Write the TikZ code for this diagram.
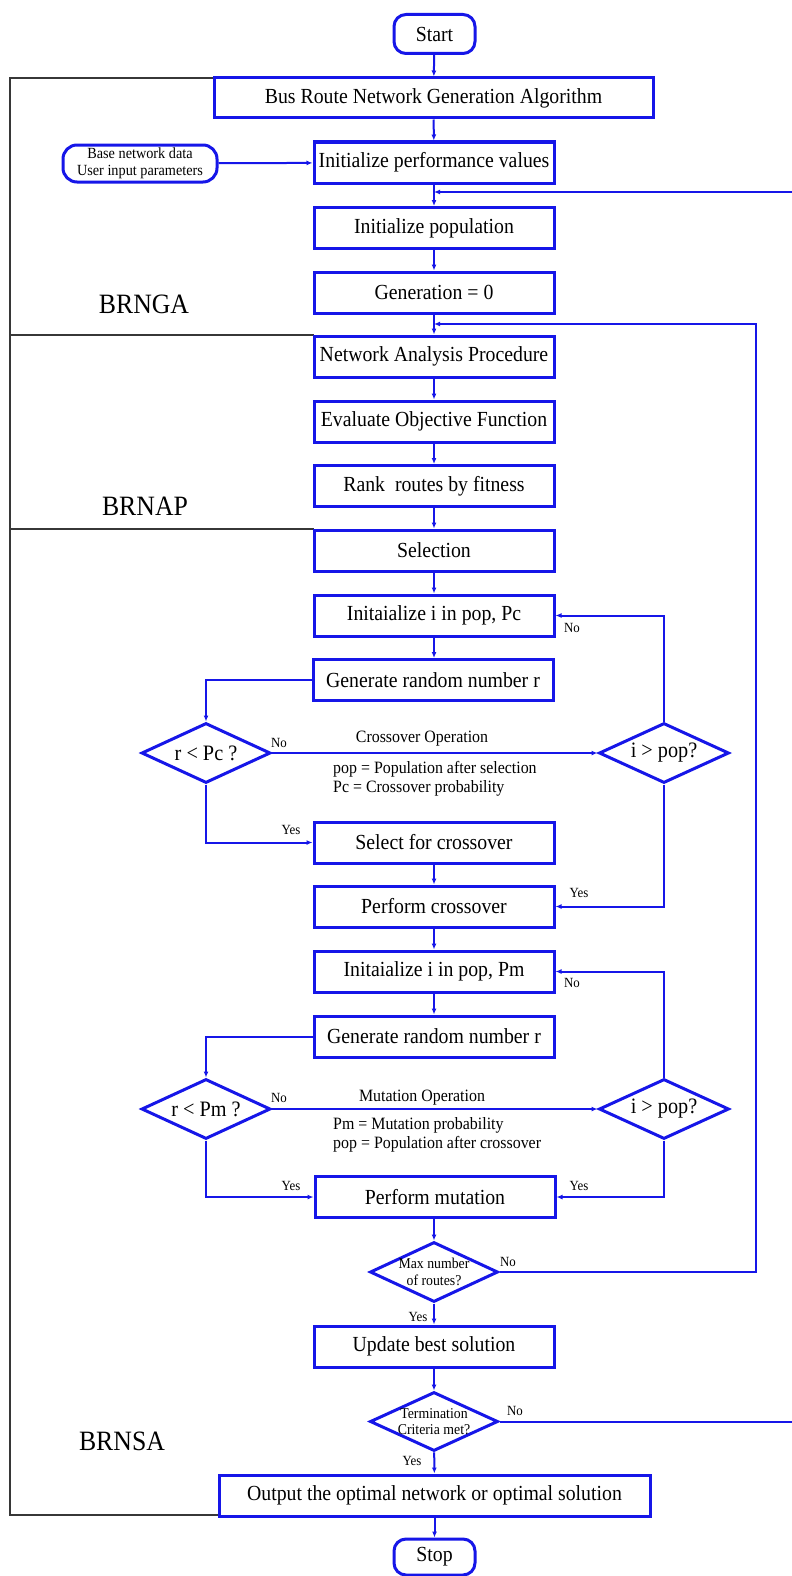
\documentclass[tikz,border=0pt]{standalone}
\usepackage{fontspec}
\setmainfont{Liberation Serif}[FakeStretch=0.92]
\usetikzlibrary{arrows.meta,shapes.geometric,calc}
\definecolor{flowblue}{RGB}{22,22,232}
\definecolor{framegray}{RGB}{55,55,55}

\begin{document}
\begin{tikzpicture}[x=1pt,y=-1pt,
  proc/.style={draw=flowblue,line width=3pt,fill=white,inner sep=0pt,
    minimum width=240pt,minimum height=41pt,font=\fontsize{21.5}{24}\selectfont},
  term/.style={proc,rounded corners=12pt,minimum width=81pt,minimum height=39pt},
  dec/.style={diamond,draw=flowblue,line width=3pt,fill=white,inner sep=0pt,
    aspect=2.15,minimum width=129pt,minimum height=60pt,
    font=\fontsize{22}{24}\selectfont},
  dtext/.style={font=\fontsize{15}{16.5}\selectfont,align=center,inner sep=0pt},
  flow/.style={draw=flowblue,line width=2pt,-{Latex[length=6pt,width=5pt]}},
  lbl/.style={font=\fontsize{14}{15}\selectfont,inner sep=0pt},
  note/.style={font=\fontsize{17.3}{19}\selectfont,inner sep=0pt},
  part/.style={font=\fontsize{28}{30}\selectfont,inner sep=0pt,anchor=base},
  frame/.style={draw=framegray,line width=1.3pt}
]
\useasboundingbox (0,0) rectangle (792,1576);
\fill[white] (0,0) rectangle (792,1576);
\clip (0,0) rectangle (792,1576);

% outer bracket of the three sub-algorithms
\draw[frame] (214,78) -- (10,78) -- (10,1515) -- (219,1515);
\draw[frame] (10,335) -- (314,335);
\draw[frame] (10,529) -- (314,529);
\node[part] (lbrnga) at (144,313) {BRNGA};
\node[part] (lbrnap) at (145,515) {BRNAP};
\node[part] (lbrnsa) at (122,1450) {BRNSA};

% main column
\node[term] (start) at (434.5,34) {Start};
\node[proc,minimum width=439pt,minimum height=40pt] (brnga) at (433.5,98) {Bus Route Network Generation Algorithm};
\node[proc,rounded corners=14pt,minimum width=154pt,minimum height=37pt,
      font=\fontsize{15.5}{16.5}\selectfont,align=center] (input) at (140,163.5)
      {Base network data\\User input parameters};
\node[proc] (initperf) at (434,162.5) {Initialize performance values};
\node[proc] (initpop) at (434,228) {Initialize population};
\node[proc] (gen0) at (434,292.5) {Generation = 0};
\node[proc] (nap) at (434,356.5) {Network Analysis Procedure};
\node[proc] (eval) at (434,421.5) {Evaluate Objective Function};
\node[proc] (rank) at (434,486) {Rank\ \ routes by fitness};
\node[proc] (sel) at (434,550.5) {Selection};

% crossover stage
\node[proc] (initc) at (434,615.5) {Initaialize i in pop, Pc};
\node[proc] (genc) at (433,680) {Generate random number r};
\node[dec] (dc) at (206,753) {r < Pc ?};
\node[dec,minimum width=130pt] (dic) at (664,753) {i > pop?};
\node[proc] (selc) at (434,842.5) {Select for crossover};
\node[proc] (perfc) at (434,906.5) {Perform crossover};

% mutation stage
\node[proc] (initm) at (434,971.5) {Initaialize i in pop, Pm};
\node[proc] (genm) at (434,1036.5) {Generate random number r};
\node[dec] (dm) at (206,1109) {r < Pm ?};
\node[dec,minimum width=130pt] (dim) at (664,1109) {i > pop?};
\node[proc] (perfm) at (435,1197) {Perform mutation};

% ending
\node[dec,minimum width=128pt] (dmax) at (434,1272) {};
\node[dtext] (dmaxt) at (dmax) {Max number\\of routes?};
\node[proc] (upd) at (434,1346.5) {Update best solution};
\node[dec,minimum width=128pt,minimum height=59pt] (dterm) at (434,1421.5) {};
\node[dtext] (dtermt) at (dterm) {Termination\\Criteria met?};
\node[proc,minimum width=431pt] (output) at (434.5,1495.5) {Output the optimal network or optimal solution};
\node[term,minimum height=36pt] (stop) at (434.5,1557) {Stop};

% junctions and rails of the loops
\coordinate (j1) at (434,192);
\coordinate (j2) at (434,324);
\coordinate (rail) at (756,0);
\coordinate (edge) at (800,0);

% straight flow
\draw[flow] (start) -- (brnga);
\draw[flow] (brnga) -- (initperf);
\draw[flow] (input) -- (initperf);
\draw[flow] (initperf) -- (initpop);
\draw[flow] (initpop) -- (gen0);
\draw[flow] (gen0) -- (nap);
\draw[flow] (nap) -- (eval);
\draw[flow] (eval) -- (rank);
\draw[flow] (rank) -- (sel);
\draw[flow] (sel) -- (initc);
\draw[flow] (initc.south) -- (initc.south |- genc.north);
\draw[flow] (selc) -- (perfc);
\draw[flow] (perfc) -- (initm);
\draw[flow] (initm) -- (genm);
\draw[flow] (perfm.south -| dmax.north) -- (dmax.north);
\draw[flow] (dmax) -- (upd);
\draw[flow] (upd) -- (dterm);
\draw[flow] (dterm) -- (output);
\draw[flow] (output) -- (stop);

% crossover loop
\draw[flow] (genc.west) -| (dc.north);
\draw[flow] (dc.east) -- (dic.west);
\draw[flow] (dic.north) |- (initc.east);
\draw[flow] (dc.south) |- (selc.west);
\draw[flow] (dic.south) |- (perfc.east);

% mutation loop
\draw[flow] (genm.west) -| (dm.north);
\draw[flow] (dm.east) -- (dim.west);
\draw[flow] (dim.north) |- (initm.east);
\draw[flow] (dm.south) |- (perfm.west);
\draw[flow] (dim.south) |- (perfm.east);

% outer loops
\draw[flow] (dmax.east) -- (dmax.east -| rail) |- (j2);
\draw[flow] (dterm.east) -- (dterm.east -| edge) |- (j1);

% branch labels
\node[lbl] (n1) at (279,743) {No};
\node[lbl] (n2) at (572,628) {No};
\node[lbl] (y1) at (291,830) {Yes};
\node[lbl] (y2) at (579,893) {Yes};
\node[lbl] (n3) at (279,1098) {No};
\node[lbl] (n4) at (572,983) {No};
\node[lbl] (y3) at (291,1186) {Yes};
\node[lbl] (y4) at (579,1186) {Yes};
\node[lbl] (n5) at (508,1262) {No};
\node[lbl] (y5) at (418,1317) {Yes};
\node[lbl] (n6) at (515,1411) {No};
\node[lbl] (y6) at (412,1461) {Yes};

% operation notes
\node[note] (cop) at (422,739) {Crossover Operation};
\node[note,anchor=west] (cn1) at (333,769) {pop = Population after selection};
\node[note,anchor=west] (cn2) at (333,788) {Pc = Crossover probability};
\node[note] (mop) at (422,1098) {Mutation Operation};
\node[note,anchor=west] (mn1) at (333,1125) {Pm = Mutation probability};
\node[note,anchor=west] (mn2) at (333,1144) {pop = Population after crossover};
\end{tikzpicture}
\end{document}
